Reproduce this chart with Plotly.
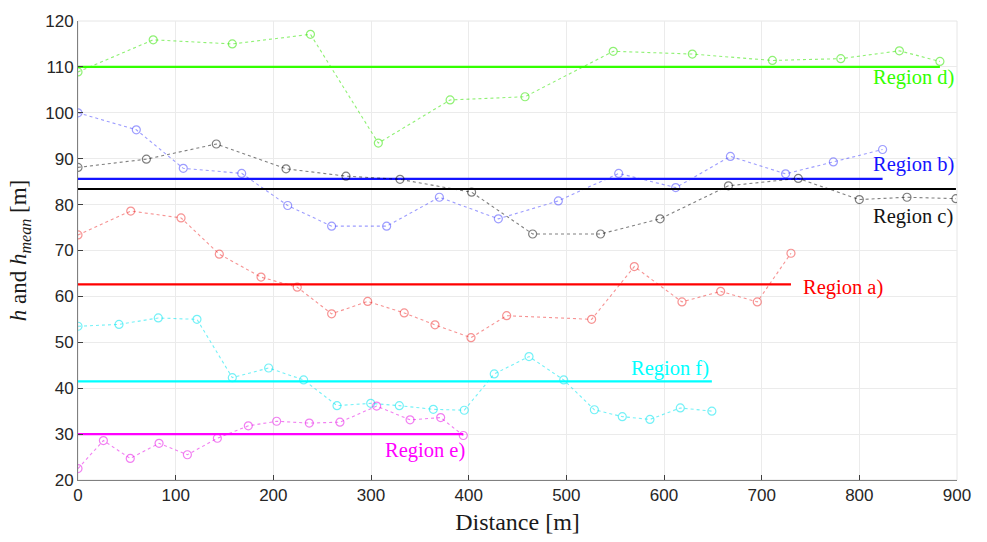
import plotly.graph_objects as go

# Terrain height profiles per region: distance [m] and height h [m]
dist_d = [0, 77, 158, 238, 307.5, 381, 457.7, 548, 629, 711, 781, 841, 882.5]
h_d = [108.9, 115.9, 115.0, 117.1, 93.4, 102.8, 103.5, 113.4, 112.8, 111.4, 111.8, 113.5, 111.2]
hmean_d = 110.0

dist_b = [0, 59.7, 107.8, 167.6, 214.7, 259.7, 316, 370, 430.4, 491.8, 553.6, 612, 668, 724.5, 773.4, 823.8]
h_b = [100.0, 96.3, 87.9, 86.8, 79.8, 75.3, 75.3, 81.6, 76.9, 80.8, 86.8, 83.7, 90.5, 86.7, 89.3, 92.0]
hmean_b = 85.6

dist_c = [0, 70, 141.6, 213, 274.4, 329.7, 403, 465.5, 535, 596, 666, 737.5, 800, 848.8, 898.9]
h_c = [88.1, 89.9, 93.2, 87.8, 86.2, 85.5, 82.7, 73.6, 73.6, 76.9, 84.1, 85.7, 81.1, 81.6, 81.3]
hmean_c = 83.4

dist_a = [0, 54, 105.5, 144.7, 187.4, 224.5, 259.7, 296.6, 334, 365.5, 402.4, 438.9, 525.9, 569.6, 618.4, 658, 695.5, 730]
h_a = [73.4, 78.6, 77.1, 69.2, 64.2, 62.0, 56.2, 58.9, 56.4, 53.8, 51.0, 55.8, 55.0, 66.5, 58.8, 61.1, 58.8, 69.4]
hmean_a = 62.6

dist_f = [0, 42, 82.2, 121.8, 158, 195.2, 231, 265.2, 299.7, 329, 363.8, 395.5, 426.2, 461.8, 497.3, 528.7, 557.3, 585.6, 616.7, 649]
h_f = [53.5, 53.9, 55.3, 55.0, 42.3, 44.4, 41.8, 36.2, 36.7, 36.2, 35.4, 35.2, 43.1, 46.9, 41.8, 35.3, 33.8, 33.2, 35.7, 35.0]
hmean_f = 41.5

dist_e = [0, 26, 53.5, 83, 112, 142.7, 174.4, 203.4, 236.8, 268.2, 305.8, 340, 371.3, 394.5]
h_e = [22.5, 28.6, 24.7, 28.0, 25.5, 29.1, 31.8, 32.8, 32.4, 32.6, 36.1, 33.1, 33.6, 29.7]
hmean_e = 30.0

x_ticks = [0, 100, 200, 300, 400, 500, 600, 700, 800, 900]
y_ticks = [20, 30, 40, 50, 60, 70, 80, 90, 100, 110, 120]

SERIF = "Times New Roman, Liberation Serif, DejaVu Serif, serif"
SANS = "Liberation Sans Narrow, Arial Narrow, Liberation Sans, Arial, sans-serif"

regions = [
    # name, distances, heights, mean, line colour, faint colour, label x, label y
    ("Region d)", dist_d, h_d, hmean_d, "rgb(51,255,0)", "rgba(51,230,0,0.55)", 855, 107.7),
    ("Region b)", dist_b, h_b, hmean_b, "rgb(20,20,255)", "rgba(60,60,255,0.5)", 855, 88.8),
    ("Region c)", dist_c, h_c, hmean_c, "rgb(0,0,0)", "rgba(0,0,0,0.5)", 855, 77.5),
    ("Region a)", dist_a, h_a, hmean_a, "rgb(255,0,0)", "rgba(240,40,40,0.5)", 783, 62.0),
    ("Region f)", dist_f, h_f, hmean_f, "rgb(0,255,255)", "rgba(0,230,240,0.55)", 606, 44.4),
    ("Region e)", dist_e, h_e, hmean_e, "rgb(255,0,255)", "rgba(230,0,230,0.5)", 355, 26.5),
]

fig = go.Figure()
annotations = []
for name, xs, hs, hm, col, faint, lx, ly in regions:
    fig.add_trace(go.Scatter(
        x=xs, y=hs, mode="lines+markers",
        line=dict(color=faint, width=1.1, dash="dot"),
        marker=dict(symbol="circle-open", size=8, color=faint, line=dict(width=1.2)),
        showlegend=False, hoverinfo="x+y", name=name))
    fig.add_trace(go.Scatter(
        x=[0, xs[-1]], y=[hm, hm], mode="lines",
        line=dict(color=col, width=2.2),
        showlegend=False, name=name + " mean"))
    label_col = col if name != "Region c)" else "rgb(20,20,20)"
    annotations.append(dict(
        x=lx, y=ly, xref="x", yref="y", text=name, showarrow=False,
        font=dict(family=SERIF, size=20.5, color=label_col)))

fig.update_layout(
    width=987, height=542,
    margin=dict(l=78, r=30, t=16, b=62),
    paper_bgcolor="white", plot_bgcolor="white",
    annotations=annotations,
    font=dict(family=SANS, size=17, color="#262626"),
)
fig.update_xaxes(
    range=[0, 900], tickvals=x_ticks, ticktext=[str(v) for v in x_ticks],
    showgrid=True, gridcolor="#ebebeb", gridwidth=1,
    showline=True, linecolor="#808080", linewidth=1, mirror=False,
    ticks="inside", ticklen=5, tickcolor="#404040",
    zeroline=False,
    title=dict(text="Distance [m]", font=dict(family=SERIF, size=24, color="#1a1a1a"), standoff=8),
)
fig.update_yaxes(
    range=[20, 120], tickvals=y_ticks, ticktext=[str(v) for v in y_ticks],
    showgrid=True, gridcolor="#ebebeb", gridwidth=1,
    showline=True, linecolor="#808080", linewidth=1, mirror=False,
    ticks="inside", ticklen=5, tickcolor="#404040",
    zeroline=False,
    title=dict(text="<i>h</i> and <i>h</i><sub><i>mean</i></sub> [m]",
               font=dict(family=SERIF, size=23, color="#1a1a1a"), standoff=12),
)
# light frame on the top and right edges of the plot area
fig.add_shape(type="rect", xref="paper", yref="paper", x0=0, y0=0, x1=1, y1=1,
              line=dict(color="#e6e6e6", width=1), layer="below")

fig.write_html("out.html")
